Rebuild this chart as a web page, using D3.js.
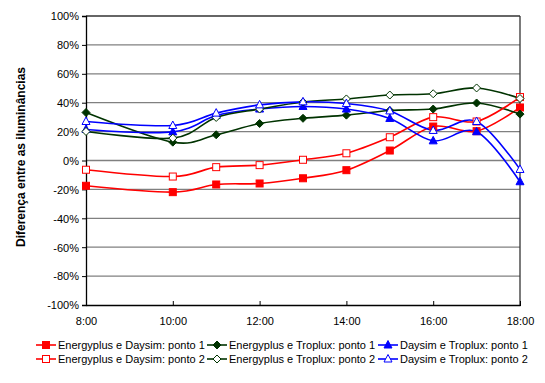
<!DOCTYPE html>
<html><head><meta charset="utf-8">
<script src="https://cdn.jsdelivr.net/npm/d3@7"></script>
<style>body{margin:0;background:#fff;} text{font-family:"Liberation Sans",Arial,sans-serif;}</style>
</head><body><svg id="c" width="545" height="383"></svg>
<script>
const hours = [8, 10, 11, 12, 13, 14, 15, 16, 17, 18];
const xTicks = [8, 10, 12, 14, 16, 18];
const yTicks = [-100, -80, -60, -40, -20, 0, 20, 40, 60, 80, 100];
const seriesNames = [
  "Energyplus e Daysim: ponto 1", "Energyplus e Daysim: ponto 2",
  "Energyplus e Troplux: ponto 1", "Energyplus e Troplux: ponto 2",
  "Daysim e Troplux: ponto 1", "Daysim e Troplux: ponto 2"];
const ed1 = [-17.5, -21.9, -16.6, -15.9, -12.3, -6.7, 6.9, 23.5, 20.3, 36.7];
const ed2 = [-6.4, -11.1, -4.6, -3.2, 0.5, 5.0, 16.1, 30.0, 27.0, 43.9];
const et1 = [33.2, 12.7, 17.8, 25.6, 29.2, 31.4, 34.6, 35.6, 39.8, 32.1];
const et2 = [20.1, 15.5, 29.8, 35.6, 40.5, 42.6, 45.3, 46.2, 50.2, 42.9];
const dt1 = [21.5, 19.8, 31.1, 35.6, 37.4, 35.6, 29.1, 13.6, 19.9, -14.7];
const dt2 = [27.0, 24.2, 32.8, 38.5, 40.6, 39.4, 34.3, 20.8, 27.0, -6.2];

const series = [
  {name: seriesNames[0], values: ed1, color: "#FF0000", shape: "square", filled: true},
  {name: seriesNames[2], values: et1, color: "#003300", shape: "diamond", filled: true},
  {name: seriesNames[4], values: dt1, color: "#0000FF", shape: "triangle", filled: true},
  {name: seriesNames[1], values: ed2, color: "#FF0000", shape: "square", filled: false},
  {name: seriesNames[3], values: et2, color: "#003300", shape: "diamond", filled: false},
  {name: seriesNames[5], values: dt2, color: "#0000FF", shape: "triangle", filled: false}
];

const svg = d3.select("#c");
const L = 86, R = 520, T = 16, B = 305;
const x = d3.scaleLinear().domain([8, 18]).range([L, R]);
const y = d3.scaleLinear().domain([-100, 100]).range([B, T]);

// gridlines
svg.append("g").selectAll("line").data(yTicks.filter(d => d > -100 && d < 100)).join("line")
  .attr("x1", L).attr("x2", R).attr("y1", d => y(d)).attr("y2", d => y(d))
  .attr("stroke", "#808080").attr("stroke-width", 1.3);
// top & right border
svg.append("line").attr("x1", L).attr("x2", R).attr("y1", y(100)).attr("y2", y(100)).attr("stroke", "#333").attr("stroke-width", 1.3);
svg.append("line").attr("x1", R).attr("x2", R).attr("y1", T).attr("y2", B).attr("stroke", "#333").attr("stroke-width", 1.3);

// axes
const yAxis = svg.append("g").attr("transform", `translate(${L},0)`)
  .call(d3.axisLeft(y).tickValues(yTicks).tickSize(4).tickPadding(3).tickFormat(d => d + "%"));
const xAxis = svg.append("g").attr("transform", `translate(0,${B})`)
  .call(d3.axisBottom(x).tickValues(xTicks).tickSize(0).tickPadding(12).tickFormat(d => d + ":00"));
xAxis.selectAll(".tick").append("line").attr("y1", -4).attr("y2", 1).attr("stroke", "#000");
[yAxis, xAxis].forEach(a => {
  a.select(".domain").attr("stroke", "#000").attr("stroke-width", 1.3);
  a.selectAll(".tick line").attr("stroke", "#000");
  a.selectAll("text").attr("font-size", 11).attr("fill", "#000").attr("font-family", "'Liberation Sans',Arial,sans-serif");
});
yAxis.selectAll("text").attr("dy", "0.35em");

// y title
svg.append("text").attr("transform", "translate(25,157) rotate(-90)")
  .attr("text-anchor", "middle").attr("font-size", 12).attr("font-weight", "bold")
  .text("Diferença entre as iluminâncias");

function marker(g, shape, color, filled, cx, cy) {
  const fill = filled ? color : "#fff";
  if (shape === "square") {
    g.append("rect").attr("x", cx - 3.5).attr("y", cy - 3.5).attr("width", 7).attr("height", 7)
      .attr("fill", fill).attr("stroke", color).attr("stroke-width", 1);
  } else if (shape === "diamond") {
    g.append("path").attr("d", `M${cx},${cy-4}L${cx+4},${cy}L${cx},${cy+4}L${cx-4},${cy}Z`)
      .attr("fill", fill).attr("stroke", color).attr("stroke-width", 1);
  } else {
    g.append("path").attr("d", `M${cx},${cy-4.5}L${cx+4},${cy+3}L${cx-4},${cy+3}Z`)
      .attr("fill", fill).attr("stroke", color).attr("stroke-width", 1);
  }
}

const line = d3.line().x(d => x(d[0])).y(d => y(d[1])).curve(d3.curveCatmullRom.alpha(0));
const plot = svg.append("g");
series.forEach(s => {
  const pts = hours.map((h, i) => [h, s.values[i]]);
  plot.append("path").attr("d", line(pts)).attr("fill", "none").attr("stroke", s.color).attr("stroke-width", 1.6);
});
series.forEach(s => {
  const g = plot.append("g");
  hours.forEach((h, i) => marker(g, s.shape, s.color, s.filled, x(h), y(s.values[i])));
});

// legend
const legCols = [36, 207, 378];
const legRows = [345, 359];
series.forEach((s, i) => {
  const cx = legCols[i % 3], cy = legRows[Math.floor(i / 3)];
  const g = svg.append("g");
  g.append("line").attr("x1", cx).attr("x2", cx + 20).attr("y1", cy).attr("y2", cy).attr("stroke", s.color).attr("stroke-width", 1.6);
  marker(g, s.shape, s.color, s.filled, cx + 10, cy);
  g.append("text").attr("x", cx + 22).attr("y", cy).attr("dy", "0.35em").attr("font-size", 11).text(s.name);
});
</script></body></html>
